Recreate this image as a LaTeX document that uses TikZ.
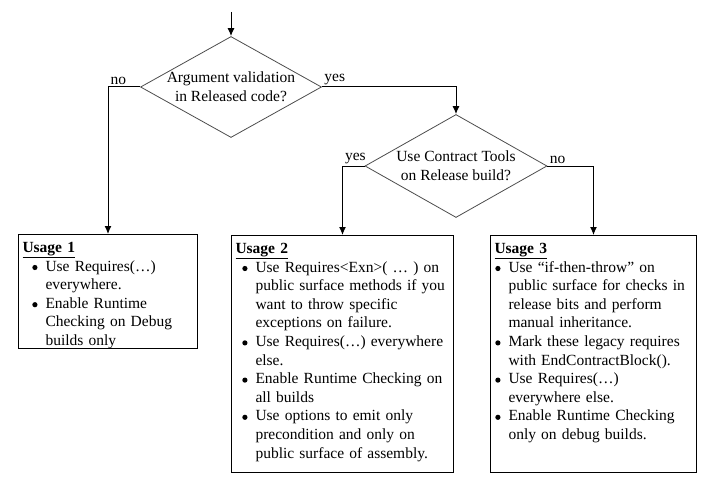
\documentclass[tikz,border=0pt]{standalone}
\usepackage{fontspec}
\setmainfont{Liberation Serif}
\usepackage{enumitem}
\usetikzlibrary{arrows.meta,shapes.geometric}

\newcommand{\usagetitle}[1]{\underline{\textbf{#1}}}
\newcommand{\dotmark}{\tikz[baseline=-3.6pt]\fill (0,0) circle (2.6pt);}

\begin{document}
\begin{tikzpicture}[x=1pt, y=-1pt,
    font=\fontsize{15.5pt}{18.6pt}\selectfont,
    >={Latex[length=8pt,width=7pt]},
    decision/.style={diamond, draw=black!70, line width=0.8pt, inner sep=0pt},
    usage/.style={draw, line width=1pt, anchor=north west, inner sep=4pt, text height=14pt},
    flow/.style={->, line width=1pt},
    lbl/.style={anchor=south west, inner sep=2pt}]
    \useasboundingbox (0,0) rectangle (709,484);

    % decisions
    \coordinate (entry) at (231,12);
    \node (argval) [decision, minimum width=181pt, minimum height=101pt] at (231,87) {};
    \node at (argval) [align=center] {Argument validation\\in Released code?};
    \node (tools) [decision, minimum width=182pt, minimum height=103pt] at (456,166) {};
    \node at (tools) [align=center] {Use Contract Tools\\on Release build?};

    % usage boxes
    \node (use1) [usage, text width=171pt, text depth=92pt] at (18,234) {%
      \usagetitle{Usage 1}
      \begin{itemize}[nosep, leftmargin=23pt, labelsep=8pt, rightmargin=-12pt, label=\dotmark]
        \item Use Requires(…)\newline everywhere.
        \item Enable Runtime\newline Checking on Debug\newline builds only
      \end{itemize}};
    \node (use2) [usage, text width=214pt, text depth=215pt] at (231,235) {%
      \usagetitle{Usage 2}
      \begin{itemize}[nosep, leftmargin=20pt, labelsep=8pt, rightmargin=-12pt, label=\dotmark]
        \item Use Requires<Exn>( … ) on\newline public surface methods if you\newline want to throw specific\newline exceptions on failure.
        \item Use Requires(…) everywhere\newline else.
        \item Enable Runtime Checking on\newline all builds
        \item Use options to emit only\newline precondition and only on\newline public surface of assembly.
      \end{itemize}};
    \node (use3) [usage, text width=198pt, text depth=215pt] at (490,235) {%
      \usagetitle{Usage 3}
      \begin{itemize}[nosep, leftmargin=14pt, labelsep=8pt, rightmargin=-12pt, label=\dotmark]
        \item Use “if-then-throw” on\newline public surface for checks in\newline release bits and perform\newline manual inheritance.
        \item Mark these legacy requires\newline with EndContractBlock().
        \item Use Requires(…)\newline everywhere else.
        \item Enable Runtime Checking\newline only on debug builds.
      \end{itemize}};

    \draw[flow] (entry) -- (argval.north);
    \draw[flow] (argval.west) -| node[lbl, pos=0.5] {no} (use1.north);
    \draw[flow] (argval.east) -| node[lbl, pos=0] {yes} (tools.north);
    \draw[flow] (tools.west) -| node[lbl, pos=0.5] {yes} (use2.north);
    \draw[flow] (tools.east) -| node[lbl, pos=0] {no} (use3.north);
\end{tikzpicture}
\end{document}
